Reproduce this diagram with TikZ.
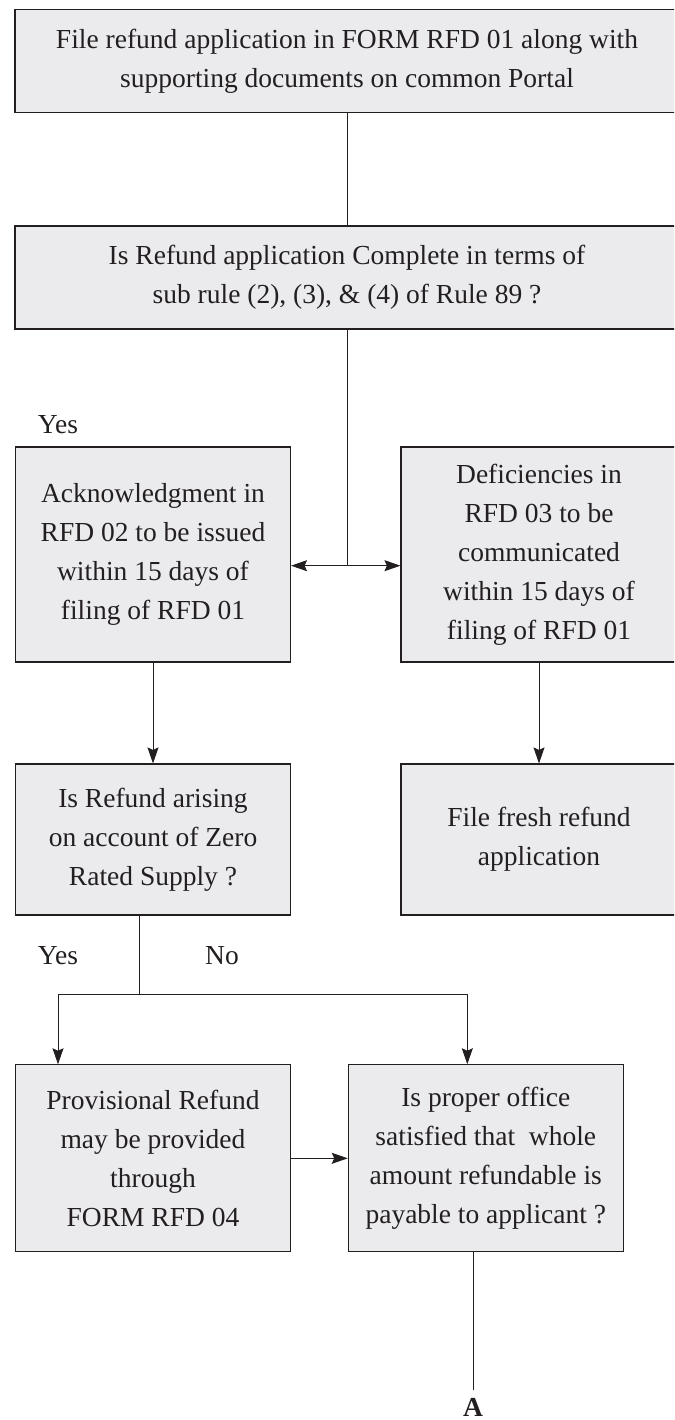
\documentclass[tikz,border=0pt]{standalone}
\usepackage{fontspec}
\setmainfont{Liberation Serif}
\usetikzlibrary{arrows.meta}
\definecolor{boxgray}{RGB}{235,235,237}
\definecolor{inkdark}{RGB}{35,31,32}
\newcommand{\boxfont}{\fontsize{27.5}{39}\selectfont}
\tikzset{
  procbox/.style={draw=inkdark, line width=1.1pt, fill=boxgray, rectangle, inner sep=0pt, align=center, font=\boxfont, text=inkdark},
  answer/.style={font=\boxfont, inner sep=0pt, text=inkdark},
  flow/.style={draw=inkdark, line width=0.9pt},
  flowarrow/.style={flow, -{Stealth[length=16pt,width=11pt,inset=2.5pt]}}
}
\begin{document}
\begin{tikzpicture}[x=1pt, y=-1pt]
  \useasboundingbox (0,0) rectangle (674,1420);
  \clip (0,0) rectangle (674,1420);

  % Filing
  \node[procbox, minimum width=664pt, minimum height=103pt] (filing) at (347,61) {File refund application in FORM RFD 01 along with\\supporting documents on common Portal};

  % Completeness check
  \node[procbox, minimum width=664pt, minimum height=103pt] (complete) at (347,277.5) {Is Refund application Complete in terms of\\sub rule (2), (3), \& (4) of Rule 89 ?};
  \draw[flow] (filing) -- (complete);

  % Acknowledgment
  \node[procbox, minimum width=275pt, minimum height=215pt] (ack) at (153,554.5) {Acknowledgment in\\RFD 02 to be issued\\within 15 days of\\filing of RFD 01};
  \node[answer] (yesack) at (58,425) {Yes};

  % Deficiencies
  \node[procbox, minimum width=276pt, minimum height=215pt] (deficient) at (539,554.5) {Deficiencies in\\RFD 03 to be\\communicated\\within 15 days of\\filing of RFD 01};

  % Split after check
  \coordinate (split) at (347,565.7);
  \draw[flow] (complete) -- (split);
  \draw[flowarrow] (split) -- (split -| ack.east);
  \draw[flowarrow] (split) -- (split -| deficient.west);

  % Zero rated question
  \node[procbox, minimum width=275pt, minimum height=151pt] (zerorated) at (153,839.5) {Is Refund arising\\on account of Zero\\Rated Supply ?};
  \draw[flowarrow] (ack) -- (zerorated);

  % Fresh application
  \node[procbox, minimum width=276pt, minimum height=151pt] (fresh) at (539,839.5) {File fresh refund\\application};
  \draw[flowarrow] (deficient) -- (fresh);

  % Provisional refund
  \node[procbox, minimum width=275pt, minimum height=187pt] (provisional) at (153,1158.3) {Provisional Refund\\may be provided\\through\\FORM RFD 04};

  % Proper officer
  \node[procbox, minimum width=275pt, minimum height=187pt] (officer) at (485.8,1158.3) {Is proper office\\satisfied that \ whole\\amount refundable is\\payable to applicant ?};
  \draw[flowarrow] (provisional) -- (officer);

  % Fork below zero rated
  \coordinate (fork) at (139,994.5);
  \coordinate (forkleft) at (58,994.5);
  \coordinate (forkright) at (467.3,994.5);
  \draw[flow] (zerorated.south -| fork) -- (fork);
  \draw[flowarrow] (fork) -- (forkleft) -- (forkleft |- provisional.north);
  \draw[flowarrow] (fork) -- (forkright) -- (forkright |- officer.north);
  \node[answer] (yeszero) at (58,956) {Yes};
  \node[answer] (nozero) at (222,956) {No};

  % Continuation
  \node[font=\boxfont\bfseries, text=inkdark, inner sep=0pt] (contA) at (473,1407) {A};
  \draw[flow, shorten >=8pt] (officer.south -| contA) -- (contA.north);
\end{tikzpicture}
\end{document}
